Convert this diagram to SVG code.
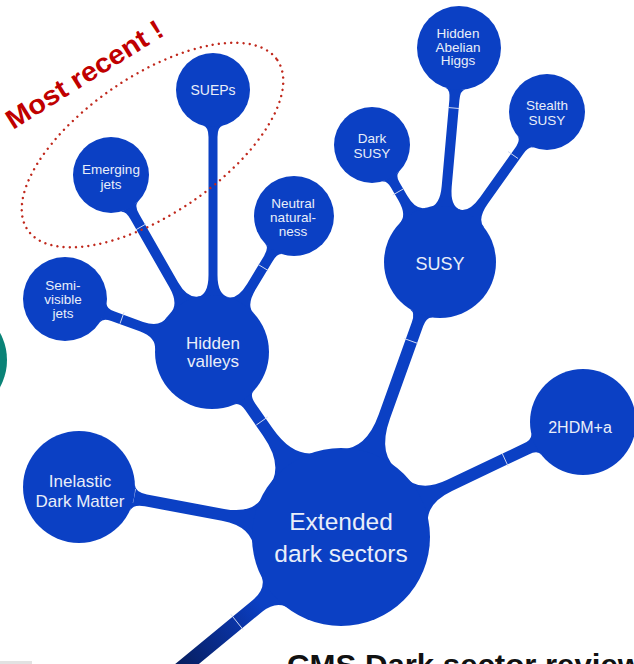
<svg xmlns="http://www.w3.org/2000/svg" width="634" height="664" viewBox="0 0 634 664">
  <defs>
    <style>
      .blob { fill: #0b40c4; }
      .tick { stroke: #cdd7f2; stroke-width: 1; fill: none; }
      .lbl { font-family: "Liberation Sans", Arial, Helvetica, sans-serif; fill: #e9eef9; text-anchor: middle; }
      .s13 { font-size: 13.5px; }
      .s14 { font-size: 14px; }
      .s16 { font-size: 16px; }
      .s17 { font-size: 17px; }
      .s18 { font-size: 18px; }
      .s25 { font-size: 24.5px; }
    </style>
    <linearGradient id="stemGrad" gradientUnits="userSpaceOnUse" x1="262" y1="605" x2="170" y2="680">
      <stop offset="0" stop-color="#0b40c4"/>
      <stop offset="0.3" stop-color="#0a32a0"/>
      <stop offset="1" stop-color="#061a50"/>
    </linearGradient>
  </defs>
  <rect width="634" height="664" fill="#ffffff"/>

  <!-- partial shapes at the edges -->
  <circle cx="-49" cy="360" r="56" fill="#0a8377"/>
  <rect x="0" y="661" width="32" height="3" fill="#e2e2e2"/>

  <g id="connectors">
    <!-- Extended -> Hidden valleys -->
    <path class="blob" d="M322.5,451.0 Q295.6,461.4 272.7,428.6 L255.2,403.5 Q249.5,395.3 253.7,390.8 L234.1,404.6 Q239.7,402.1 245.4,410.3 L262.9,435.4 Q285.8,468.2 266.7,489.8 Z"/>
    <!-- Extended -> SUSY -->
    <path class="blob" d="M400.5,472.1 Q376.5,456.2 390.0,418.6 L423.2,326.1 Q426.6,316.7 432.8,317.6 L410.2,309.4 Q415.3,312.7 411.9,322.1 L378.7,414.6 Q365.2,452.2 336.5,449.1 Z"/>
    <!-- Extended -> 2HDM+a -->
    <path class="blob" d="M428.6,528.6 Q423.1,504.6 452.0,490.9 L528.7,454.4 Q537.7,450.1 541.5,454.9 L531.3,433.3 Q532.5,439.3 523.5,443.6 L446.8,480.1 Q417.9,493.8 402.8,474.4 Z"/>
    <!-- Extended -> Inelastic Dark Matter -->
    <path class="blob" d="M265.3,492.2 Q255.6,514.8 224.1,508.9 L147.0,494.5 Q135.2,492.3 134.9,485.1 L130.1,510.7 Q133.0,504.1 144.8,506.3 L221.9,520.7 Q253.4,526.6 254.2,551.2 Z"/>
    <!-- Extended -> stem (off the bottom edge) -->
    <path fill="url(#stemGrad)" d="M259.7,570.5 Q268.4,587.2 252.9,599.9 L151.2,683.8 L160.8,695.4 L262.5,611.5 Q278.0,598.8 292.7,610.5 Z"/>
    <!-- Hidden valleys -> Semi-visible jets -->
    <path class="blob" d="M167.2,316.8 Q160.1,328.0 143.1,321.9 L114.7,311.6 Q106.2,308.5 106.8,303.4 L100.0,322.2 Q102.8,317.9 111.3,321.0 L139.7,331.3 Q156.7,337.4 155.0,350.6 Z"/>
    <!-- Hidden valleys -> Emerging jets -->
    <path class="blob" d="M200.8,296.1 Q188.1,300.0 178.2,282.6 L139.2,214.2 Q134.2,205.5 137.9,201.9 L120.5,211.9 Q125.5,210.5 130.5,219.2 L169.5,287.6 Q179.4,305.0 169.6,313.9 Z"/>
    <!-- Hidden valleys -> SUEPs -->
    <path class="blob" d="M229,297.3 Q217.5,295 217.5,275 L217.5,137 Q217.5,127 223,125.6 L203,125.6 Q208.5,127 208.5,137 L208.5,275 Q208.5,295 197,297.3 Z"/>
    <!-- Hidden valleys -> Neutral naturalness -->
    <path class="blob" d="M253.9,313.5 Q245.7,305.8 256.0,288.7 L272.5,261.4 Q277.7,252.8 282.6,254.3 L265.4,243.9 Q269.1,247.6 263.9,256.2 L247.4,283.5 Q237.1,300.6 226.5,296.9 Z"/>
    <!-- SUSY -> Dark SUSY -->
    <path class="blob" d="M426.8,207.5 Q416.1,211.1 407.1,195.5 L399.4,182.3 Q395.4,175.4 399.2,171.7 L381.9,181.7 Q386.8,180.4 390.8,187.3 L398.5,200.5 Q407.5,216.1 399.2,223.5 Z"/>
    <!-- SUSY -> Hidden Abelian Higgs -->
    <path class="blob" d="M460.7,209.9 Q450.0,206.6 451.7,186.7 L459.4,100.2 Q460.3,90.2 465.4,89.5 L445.4,87.7 Q450.3,89.4 449.4,99.4 L441.7,185.9 Q440.0,205.8 428.9,207.1 Z"/>
    <!-- SUSY -> Stealth SUSY -->
    <path class="blob" d="M484.2,227.6 Q476.6,219.3 488.3,203.0 L523.2,154.0 Q529.0,145.8 533.8,147.7 L517.6,136.1 Q520.8,140.0 515.0,148.2 L480.1,197.2 Q468.4,213.5 458.2,209.0 Z"/>

    <!-- small cross ticks on the tubes -->
    <line class="tick" x1="256.3" y1="425" x2="267.7" y2="417"/>
    <line class="tick" x1="404.4" y1="338.6" x2="417.6" y2="343.4"/>
    <line class="tick" x1="502" y1="453" x2="508" y2="466"/>
    <line class="tick" x1="132.6" y1="502.9" x2="135.4" y2="489.1"/>
    <line class="tick" x1="243" y1="629.5" x2="231" y2="614.5"/>
    <line class="tick" x1="120" y1="323.6" x2="124" y2="312.4"/>
    <line class="tick" x1="135.5" y1="230" x2="145.9" y2="224"/>
    <line class="tick" x1="257.9" y1="264.3" x2="268.1" y2="270.5"/>
    <line class="tick" x1="392.8" y1="195" x2="403.2" y2="189"/>
    <line class="tick" x1="448" y1="107.5" x2="459" y2="108.5"/>
    <line class="tick" x1="508" y1="151.5" x2="518" y2="158.5"/>
  </g>

  <g id="node-extended">
    <circle class="blob" cx="341" cy="537" r="89"/>
    <text class="lbl s25" x="341" y="530">Extended</text>
    <text class="lbl s25" x="341" y="562">dark sectors</text>
  </g>
  <g id="node-hidden-valleys">
    <circle class="blob" cx="212" cy="352" r="57"/>
    <text class="lbl s17" x="213" y="349">Hidden</text>
    <text class="lbl s17" x="213" y="367">valleys</text>
  </g>
  <g id="node-susy">
    <circle class="blob" cx="440" cy="262" r="56"/>
    <text class="lbl s18" x="440" y="270">SUSY</text>
  </g>
  <g id="node-2hdma">
    <circle class="blob" cx="583" cy="422" r="53"/>
    <text class="lbl s16" x="580" y="433">2HDM+a</text>
  </g>
  <g id="node-inelastic">
    <circle class="blob" cx="79" cy="487" r="56"/>
    <text class="lbl s17" x="80" y="487">Inelastic</text>
    <text class="lbl s17" x="80" y="507">Dark Matter</text>
  </g>
  <g id="node-semivisible">
    <circle class="blob" cx="65" cy="299" r="42"/>
    <text class="lbl s13" x="63" y="290">Semi-</text>
    <text class="lbl s13" x="63" y="304">visible</text>
    <text class="lbl s13" x="63" y="318">jets</text>
  </g>
  <g id="node-emerging">
    <circle class="blob" cx="111" cy="175" r="38"/>
    <text class="lbl s13" x="111" y="174">Emerging</text>
    <text class="lbl s13" x="111" y="188.5">jets</text>
  </g>
  <g id="node-sueps">
    <circle class="blob" cx="213" cy="90" r="37"/>
    <text class="lbl s14" x="213" y="95">SUEPs</text>
  </g>
  <g id="node-neutral">
    <circle class="blob" cx="294" cy="216" r="40"/>
    <text class="lbl s13" x="293" y="208">Neutral</text>
    <text class="lbl s13" x="293" y="222">natural-</text>
    <text class="lbl s13" x="293" y="236">ness</text>
  </g>
  <g id="node-dark-susy">
    <circle class="blob" cx="372" cy="145" r="38"/>
    <text class="lbl s13" x="372" y="143">Dark</text>
    <text class="lbl s13" x="372" y="157.5">SUSY</text>
  </g>
  <g id="node-hidden-abelian-higgs">
    <circle class="blob" cx="459" cy="48" r="42"/>
    <text class="lbl s13" x="458" y="38">Hidden</text>
    <text class="lbl s13" x="458" y="51.5">Abelian</text>
    <text class="lbl s13" x="458" y="65">Higgs</text>
  </g>
  <g id="node-stealth-susy">
    <circle class="blob" cx="547" cy="112" r="38"/>
    <text class="lbl s13" x="547" y="110">Stealth</text>
    <text class="lbl s13" x="547" y="124.5">SUSY</text>
  </g>

  <!-- annotation -->
  <g id="annotation">
    <ellipse cx="152.5" cy="145" rx="151" ry="69" transform="rotate(-34.2 152.5 145)" fill="none" stroke="#c0281c" stroke-width="2.4" stroke-linecap="round" stroke-dasharray="0 6.2"/>
    <text x="13" y="130" transform="rotate(-32 13 130)" font-family="'Liberation Sans', Arial, sans-serif" font-weight="bold" font-size="27" fill="#c00000" textLength="180" lengthAdjust="spacingAndGlyphs">Most recent !</text>
  </g>

  <text x="287" y="675" font-family="'Liberation Sans', Arial, sans-serif" font-weight="bold" font-size="30" fill="#111111" textLength="355" lengthAdjust="spacingAndGlyphs">CMS Dark sector review</text>
</svg>
